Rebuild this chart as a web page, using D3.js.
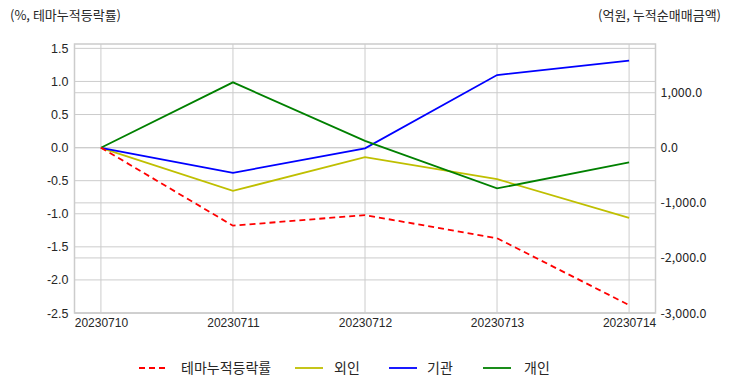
<!DOCTYPE html>
<html><head><meta charset="utf-8">
<script src="https://cdn.jsdelivr.net/npm/d3@7"></script>
<style>body{margin:0;background:#fff}</style>
</head><body>
<svg id="c" width="732" height="392"></svg>
<script>
const dates = ["20230710","20230711","20230712","20230713","20230714"];
const themeRate = [0, -1.18, -1.02, -1.37, -2.38];      // left axis (%)
const foreign = [0, -782, -169, -569, -1273];            // right axis (억원)
const institution = [0, -455, -10, 1322, 1582];
const individual = [0, 1189, 127, -738, -265];
const leftTicks = [1.5, 1.0, 0.5, 0.0, -0.5, -1.0, -1.5, -2.0, -2.5];
const rightTicks = [1000, 0, -1000, -2000, -3000];
const leftTitle = "(%, 테마누적등락률)";
const rightTitle = "(억원, 누적순매매금액)";
const seriesNames = ["테마누적등락률", "외인", "기관", "개인"];

const svg = d3.select("#c");
const L = 74.5, R = 655.5, T = 44, B = 313;
const x = d3.scaleLinear().domain([-0.2, 4.2]).range([L, R]);
const yL = d3.scaleLinear().domain([-2.5, 1.566]).range([B, T]);
const yR = d3.scaleLinear().domain([-3000, 1885]).range([B, T]);
const latin = "'Liberation Sans', Arial, sans-serif";
const kr = "'Noto Sans CJK KR', sans-serif";
const grid = "#cccccc";
const txt = "#262626";
const hy = f => d => f(d).replace("\u2212", "-");

// grids
const g = svg.append("g");
g.selectAll(".gl").data(leftTicks).join("line")
  .attr("x1", L).attr("x2", R).attr("y1", d => yL(d)).attr("y2", d => yL(d))
  .attr("stroke", grid).attr("stroke-width", 1);
g.selectAll(".gr").data(rightTicks).join("line")
  .attr("x1", L).attr("x2", R).attr("y1", d => yR(d)).attr("y2", d => yR(d))
  .attr("stroke", grid).attr("stroke-width", 1);
g.selectAll(".gx").data(dates).join("line")
  .attr("x1", (d,i) => x(i)).attr("x2", (d,i) => x(i)).attr("y1", T).attr("y2", B)
  .attr("stroke", grid).attr("stroke-width", 1);

// frame
svg.append("rect").attr("x", L).attr("y", T).attr("width", R-L).attr("height", B-T)
  .attr("fill", "none").attr("stroke", grid).attr("stroke-width", 1.5);

// axes via d3
const axL = d3.axisLeft(yL).tickValues(leftTicks).tickSize(0).tickPadding(6).tickFormat(hy(d3.format(".1f")));
const gL = svg.append("g").attr("transform", `translate(${L},0)`).call(axL);
gL.select(".domain").remove();
gL.selectAll("text").attr("font-family", latin).attr("font-size", 12.5).attr("fill", txt);

const axR = d3.axisRight(yR).tickValues(rightTicks).tickSize(0).tickPadding(5).tickFormat(hy(d3.format(",.1f")));
const gR = svg.append("g").attr("transform", `translate(${R},0)`).call(axR);
gR.select(".domain").remove();
gR.selectAll("text").attr("font-family", kr).attr("font-size", 12.5).attr("fill", txt);

const axB = d3.axisBottom(x).tickValues(d3.range(dates.length)).tickSize(0).tickPadding(5).tickFormat(i => dates[i]);
const gB = svg.append("g").attr("transform", `translate(0,${B})`).call(axB);
gB.select(".domain").remove();
gB.selectAll("text").attr("font-family", latin).attr("font-size", 12).attr("fill", txt);

// lines
const lineL = d3.line().x((d,i) => x(i)).y(d => yL(d));
const lineR = d3.line().x((d,i) => x(i)).y(d => yR(d));
const series = [
  {data: foreign, color: "#bfbf00", gen: lineR, dash: null},
  {data: institution, color: "#0000ff", gen: lineR, dash: null},
  {data: individual, color: "#008000", gen: lineR, dash: null},
  {data: themeRate, color: "#ff0000", gen: lineL, dash: "6,4"}
];
series.forEach(s => {
  svg.append("path").attr("d", s.gen(s.data)).attr("fill", "none")
    .attr("stroke", s.color).attr("stroke-width", 1.8)
    .attr("stroke-dasharray", s.dash);
});

// titles
svg.append("text").attr("x", 10).attr("y", 20).text(leftTitle)
  .attr("font-family", kr).attr("font-size", 13).attr("fill", txt);
svg.append("text").attr("x", 721).attr("y", 20).attr("text-anchor", "end").text(rightTitle)
  .attr("font-family", kr).attr("font-size", 13).attr("fill", txt);

// legend
const legend = [
  {name: seriesNames[0], color: "#ff0000", dash: "6,4", lx: 139, tx: 181},
  {name: seriesNames[1], color: "#bfbf00", dash: null, lx: 295, tx: 334},
  {name: seriesNames[2], color: "#0000ff", dash: null, lx: 389, tx: 427},
  {name: seriesNames[3], color: "#008000", dash: null, lx: 483, tx: 524}
];
const lg = svg.append("g");
legend.forEach(d => {
  lg.append("line").attr("x1", d.lx).attr("x2", d.lx + 28).attr("y1", 368).attr("y2", 368)
    .attr("stroke", d.color).attr("stroke-width", 1.8).attr("stroke-dasharray", d.dash);
  lg.append("text").attr("x", d.tx).attr("y", 373).text(d.name)
    .attr("font-family", kr).attr("font-size", 14).attr("fill", txt);
});
</script>
</body></html>
